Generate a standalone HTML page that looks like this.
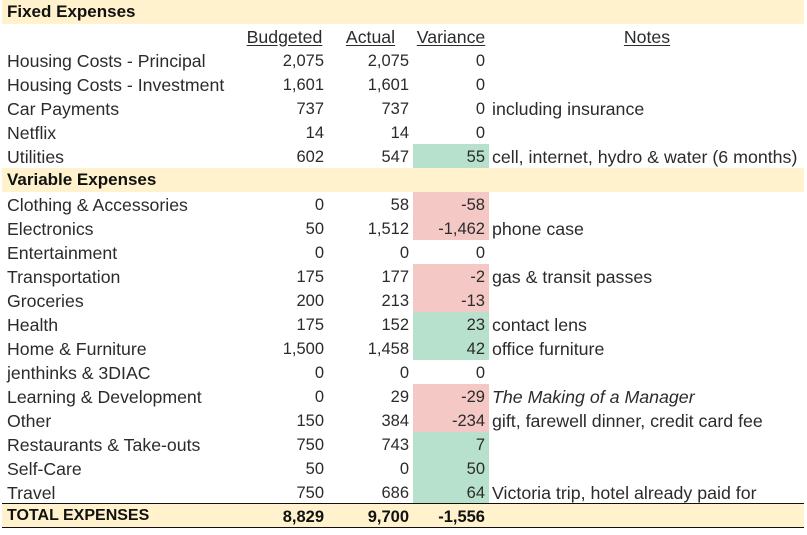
<!DOCTYPE html>
<html><head><meta charset="utf-8"><style>
*{margin:0;padding:0;box-sizing:border-box}
html,body{width:807px;height:535px;background:#fff;overflow:hidden}
body{position:relative;font-family:"Liberation Sans",sans-serif;color:#2b2b2b}
.r{position:absolute;left:0;width:807px;height:24px}
.band{position:absolute;left:2px;width:802px;height:24px;background:#fff2cc}
.l{position:absolute;left:7px;top:0.5px;line-height:24px;font-size:17.7px;white-space:nowrap}
.b,.a,.v{position:absolute;top:1px;line-height:24px;font-size:16.5px;text-align:right;white-space:nowrap}
.b{right:483px}
.a{right:398px}
.vc{position:absolute;left:413px;width:76px;height:24px}
.v{right:322px}
.n{position:absolute;left:492px;top:0.5px;line-height:24px;font-size:17.8px;white-space:nowrap}
.g{background:#b7e1cd}
.red{background:#f4c9c5}
.h{position:absolute;top:0.5px;line-height:24px;font-size:17.7px;text-decoration:underline;text-underline-offset:2px;text-align:center}
.sec{position:absolute;left:7px;top:0;line-height:24px;font-size:17px;font-weight:bold;color:#111;white-space:nowrap}
</style></head><body>

<div class="band" style="top:0"></div>
<div class="r" style="top:0"><div class="sec">Fixed Expenses</div></div>

<div class="r" style="top:24px">
<div class="h" style="left:241px;width:87px">Budgeted</div>
<div class="h" style="left:328px;width:85px">Actual</div>
<div class="h" style="left:413px;width:76px">Variance</div>
<div class="h" style="left:489px;width:316px">Notes</div>
</div>

<div class="r" style="top:48px"><div class="l">Housing Costs - Principal</div><div class="b">2,075</div><div class="a">2,075</div><div class="v">0</div></div>
<div class="r" style="top:72px"><div class="l">Housing Costs - Investment</div><div class="b">1,601</div><div class="a">1,601</div><div class="v">0</div></div>
<div class="r" style="top:96px"><div class="l">Car Payments</div><div class="b">737</div><div class="a">737</div><div class="v">0</div><div class="n">including insurance</div></div>
<div class="r" style="top:120px"><div class="l">Netflix</div><div class="b">14</div><div class="a">14</div><div class="v">0</div></div>
<div class="r" style="top:144px"><div class="vc g"></div><div class="l">Utilities</div><div class="b">602</div><div class="a">547</div><div class="v">55</div><div class="n">cell, internet, hydro &amp; water (6 months)</div></div>

<div class="band" style="top:168px"></div>
<div class="r" style="top:168px"><div class="sec">Variable Expenses</div></div>

<div class="r" style="top:192px"><div class="vc red"></div><div class="l">Clothing &amp; Accessories</div><div class="b">0</div><div class="a">58</div><div class="v">-58</div></div>
<div class="r" style="top:216px"><div class="vc red"></div><div class="l">Electronics</div><div class="b">50</div><div class="a">1,512</div><div class="v">-1,462</div><div class="n">phone case</div></div>
<div class="r" style="top:240px"><div class="l">Entertainment</div><div class="b">0</div><div class="a">0</div><div class="v">0</div></div>
<div class="r" style="top:264px"><div class="vc red"></div><div class="l">Transportation</div><div class="b">175</div><div class="a">177</div><div class="v">-2</div><div class="n">gas &amp; transit passes</div></div>
<div class="r" style="top:288px"><div class="vc red"></div><div class="l">Groceries</div><div class="b">200</div><div class="a">213</div><div class="v">-13</div></div>
<div class="r" style="top:312px"><div class="vc g"></div><div class="l">Health</div><div class="b">175</div><div class="a">152</div><div class="v">23</div><div class="n">contact lens</div></div>
<div class="r" style="top:336px"><div class="vc g"></div><div class="l">Home &amp; Furniture</div><div class="b">1,500</div><div class="a">1,458</div><div class="v">42</div><div class="n">office furniture</div></div>
<div class="r" style="top:360px"><div class="l">jenthinks &amp; 3DIAC</div><div class="b">0</div><div class="a">0</div><div class="v">0</div></div>
<div class="r" style="top:384px"><div class="vc red"></div><div class="l">Learning &amp; Development</div><div class="b">0</div><div class="a">29</div><div class="v">-29</div><div class="n" style="font-style:italic">The Making of a Manager</div></div>
<div class="r" style="top:408px"><div class="vc red"></div><div class="l">Other</div><div class="b">150</div><div class="a">384</div><div class="v">-234</div><div class="n">gift, farewell dinner, credit card fee</div></div>
<div class="r" style="top:432px"><div class="vc g"></div><div class="l">Restaurants &amp; Take-outs</div><div class="b">750</div><div class="a">743</div><div class="v">7</div></div>
<div class="r" style="top:456px"><div class="vc g"></div><div class="l">Self-Care</div><div class="b">50</div><div class="a">0</div><div class="v">50</div></div>
<div class="r" style="top:480px"><div class="vc g" style="height:23px"></div><div class="l">Travel</div><div class="b">750</div><div class="a">686</div><div class="v">64</div><div class="n">Victoria trip, hotel already paid for</div></div>

<div style="position:absolute;left:2px;top:503px;width:802px;height:25px;background:#fff2cc;border-top:1.5px solid #111;border-bottom:1.5px solid #111"></div>
<div class="r" style="top:504px;color:#111;font-weight:bold">
<div class="sec" style="font-size:16px">TOTAL EXPENSES</div>
<div class="b" style="font-size:16.5px">8,829</div>
<div class="a" style="font-size:16.5px">9,700</div>
<div class="v" style="font-size:16.5px">-1,556</div>
</div>

</body></html>
